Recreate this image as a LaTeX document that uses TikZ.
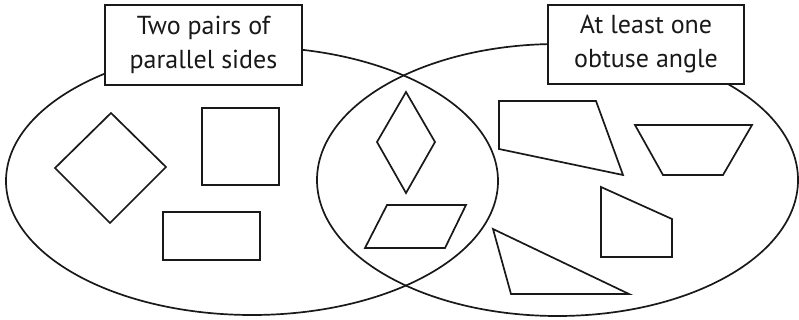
\documentclass[tikz,border=0pt]{standalone}
\usepackage{fontspec}
\setmainfont{PT Sans}
\begin{document}
\begin{tikzpicture}[x=1pt,y=-1pt,
  outline/.style={draw=black!90,line width=1.7pt,line join=miter},
  labelbox/.style={draw=black!90,line width=1.7pt,fill=white,minimum width=197pt,minimum height=80pt,inner sep=0pt,align=center,font=\fontsize{26}{34}\selectfont,text=black!90}]
\useasboundingbox (0,0) rectangle (799,320);
% sets
\draw[outline] (252,181) ellipse [x radius=246, y radius=134];
\draw[outline] (557.5,180) ellipse [x radius=240.5, y radius=136];
% labels
\node[labelbox] (lab1) at (203.5,45) {Two pairs of\\parallel sides};
\node[labelbox,minimum width=196pt,minimum height=79pt] (lab2) at (646,44.5) {At least one\\obtuse angle};
% left shapes
\draw[outline] (111,113) -- (166,167) -- (110,223) -- (55,168) -- cycle;
\draw[outline] (202,108) rectangle (279,185);
\draw[outline] (163,212) rectangle (260,260);
% intersection shapes
\draw[outline] (406,92) -- (435,142) -- (406,193) -- (377,142) -- cycle;
\draw[outline] (365,248) -- (387,205) -- (466,205) -- (445,248) -- cycle;
% right shapes
\draw[outline] (499,101) -- (596,101) -- (623,175) -- (499,149) -- cycle;
\draw[outline] (635,125) -- (752,125) -- (723,175) -- (663,175) -- cycle;
\draw[outline] (601,187) -- (672,219) -- (672,257) -- (601,257) -- cycle;
\draw[outline] (493,229) -- (629,294) -- (511,294) -- cycle;
\end{tikzpicture}
\end{document}
